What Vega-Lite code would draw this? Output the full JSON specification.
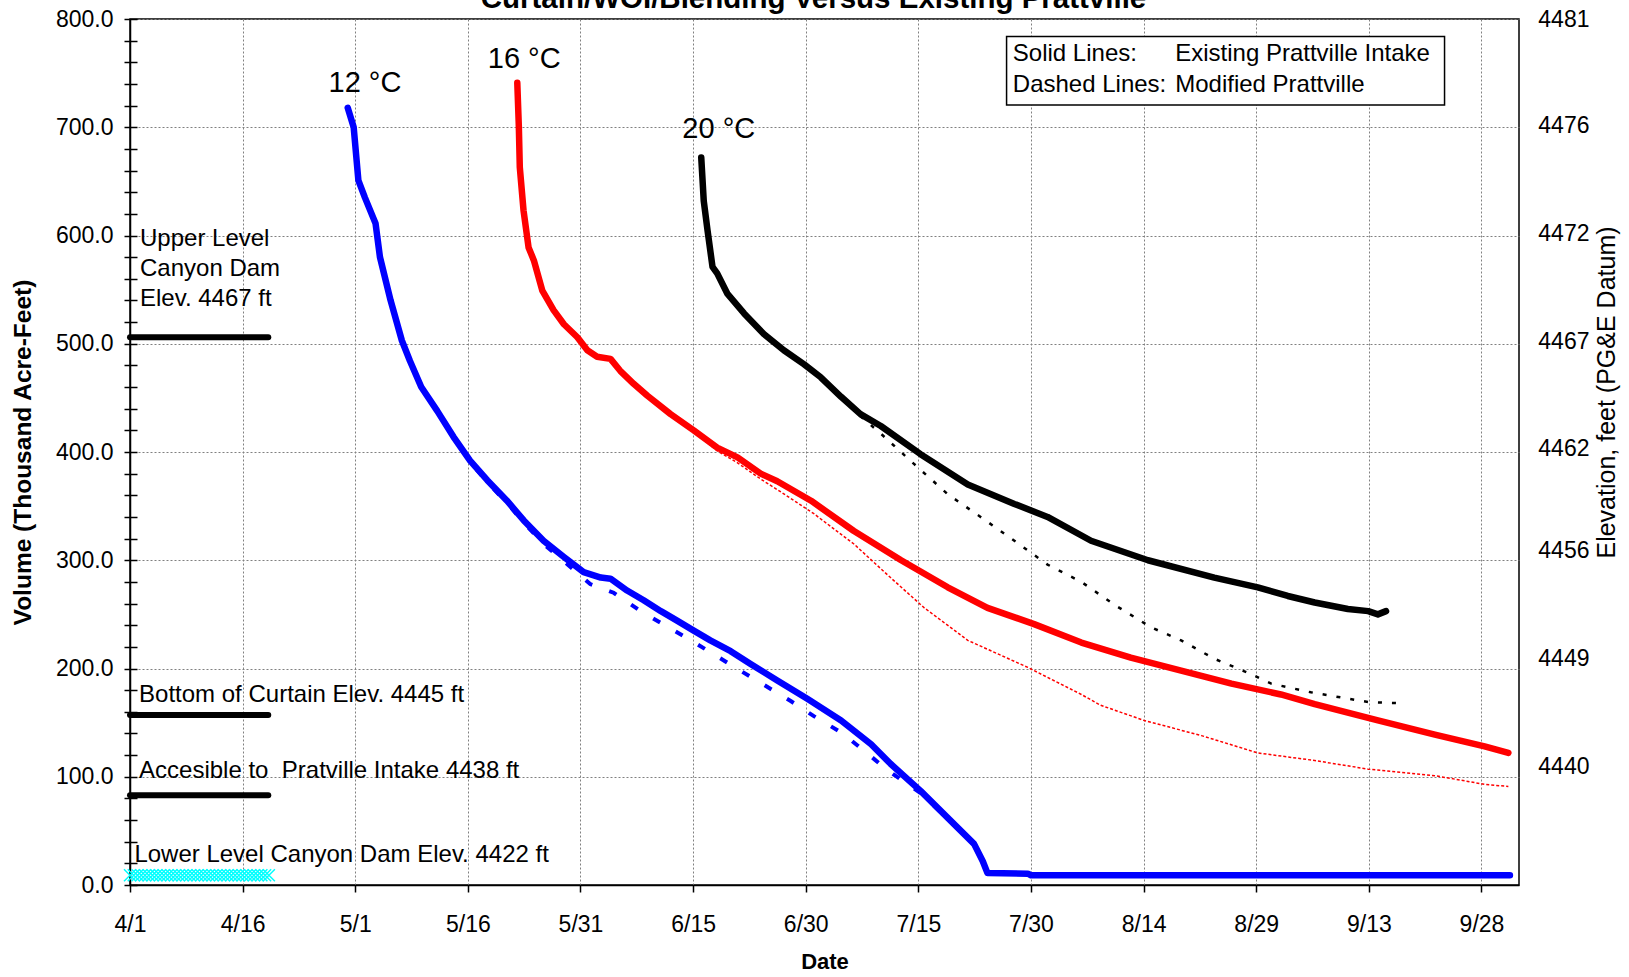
{
  "$schema": "https://vega.github.io/schema/vega-lite/v6.json",
  "width": 1389,
  "height": 866,
  "autosize": {"type": "none"},
  "padding": {"left": 130, "top": 19, "right": 110, "bottom": 92},
  "background": "white",
  "title": {"text": "Curtain/WOI/Blending Versus Existing Prattville", "font": "Liberation Sans", "fontSize": 29.5, "fontWeight": "bold", "anchor": "middle", "frame": "group", "baseline": "alphabetic", "offset": -16, "dx": -11, "dy": 13, "color": "black"},
  "config": {
    "font": "Liberation Sans",
    "view": {"stroke": "black", "strokeWidth": 1.5},
    "axis": {"labelColor": "black", "titleColor": "black", "labelFont": "Liberation Sans", "titleFont": "Liberation Sans"}
  },
  "datasets": {
    "levels": [
      {"d": "2001-04-01T00:00Z", "d2": "2001-04-19T10:00Z", "v": 506},
      {"d": "2001-04-01T00:00Z", "d2": "2001-04-19T10:00Z", "v": 157},
      {"d": "2001-04-01T00:00Z", "d2": "2001-04-19T10:00Z", "v": 83}
    ],
    "cyan": [
      {"d": "2001-04-01T00:00Z", "v": 9}, {"d": "2001-04-01T12:00Z", "v": 9},
      {"d": "2001-04-02T00:00Z", "v": 9}, {"d": "2001-04-02T12:00Z", "v": 9},
      {"d": "2001-04-03T00:00Z", "v": 9}, {"d": "2001-04-03T12:00Z", "v": 9},
      {"d": "2001-04-04T00:00Z", "v": 9}, {"d": "2001-04-04T12:00Z", "v": 9},
      {"d": "2001-04-05T00:00Z", "v": 9}, {"d": "2001-04-05T12:00Z", "v": 9},
      {"d": "2001-04-06T00:00Z", "v": 9}, {"d": "2001-04-06T12:00Z", "v": 9},
      {"d": "2001-04-07T00:00Z", "v": 9}, {"d": "2001-04-07T12:00Z", "v": 9},
      {"d": "2001-04-08T00:00Z", "v": 9}, {"d": "2001-04-08T12:00Z", "v": 9},
      {"d": "2001-04-09T00:00Z", "v": 9}, {"d": "2001-04-09T12:00Z", "v": 9},
      {"d": "2001-04-10T00:00Z", "v": 9}, {"d": "2001-04-10T12:00Z", "v": 9},
      {"d": "2001-04-11T00:00Z", "v": 9}, {"d": "2001-04-11T12:00Z", "v": 9},
      {"d": "2001-04-12T00:00Z", "v": 9}, {"d": "2001-04-12T12:00Z", "v": 9},
      {"d": "2001-04-13T00:00Z", "v": 9}, {"d": "2001-04-13T12:00Z", "v": 9},
      {"d": "2001-04-14T00:00Z", "v": 9}, {"d": "2001-04-14T12:00Z", "v": 9},
      {"d": "2001-04-15T00:00Z", "v": 9}, {"d": "2001-04-15T12:00Z", "v": 9},
      {"d": "2001-04-16T00:00Z", "v": 9}, {"d": "2001-04-16T12:00Z", "v": 9},
      {"d": "2001-04-17T00:00Z", "v": 9}, {"d": "2001-04-17T12:00Z", "v": 9},
      {"d": "2001-04-18T00:00Z", "v": 9}, {"d": "2001-04-18T12:00Z", "v": 9},
      {"d": "2001-04-19T00:00Z", "v": 9}, {"d": "2001-04-19T12:00Z", "v": 9}
    ],
    "blueS": [
      {"d": "2001-04-30T00:00Z", "v": 718}, {"d": "2001-04-30T19:00Z", "v": 700},
      {"d": "2001-05-01T10:00Z", "v": 651}, {"d": "2001-05-02T07:00Z", "v": 635},
      {"d": "2001-05-03T17:00Z", "v": 611}, {"d": "2001-05-04T07:00Z", "v": 580},
      {"d": "2001-05-05T17:00Z", "v": 540}, {"d": "2001-05-07T05:00Z", "v": 503},
      {"d": "2001-05-08T07:00Z", "v": 484}, {"d": "2001-05-09T19:00Z", "v": 460},
      {"d": "2001-05-11T22:00Z", "v": 438}, {"d": "2001-05-14T02:00Z", "v": 414},
      {"d": "2001-05-16T07:00Z", "v": 392}, {"d": "2001-05-18T14:00Z", "v": 374},
      {"d": "2001-05-21T05:00Z", "v": 355}, {"d": "2001-05-23T10:00Z", "v": 337},
      {"d": "2001-05-26T02:00Z", "v": 318}, {"d": "2001-05-28T19:00Z", "v": 303},
      {"d": "2001-05-31T10:00Z", "v": 289}, {"d": "2001-06-02T17:00Z", "v": 284},
      {"d": "2001-06-04T00:00Z", "v": 283}, {"d": "2001-06-06T05:00Z", "v": 272},
      {"d": "2001-06-08T10:00Z", "v": 263}, {"d": "2001-06-10T17:00Z", "v": 253},
      {"d": "2001-06-12T22:00Z", "v": 244}, {"d": "2001-06-15T02:00Z", "v": 235},
      {"d": "2001-06-17T07:00Z", "v": 226}, {"d": "2001-06-20T00:00Z", "v": 216},
      {"d": "2001-06-22T17:00Z", "v": 204}, {"d": "2001-06-26T05:00Z", "v": 189},
      {"d": "2001-06-30T05:00Z", "v": 172}, {"d": "2001-07-04T17:00Z", "v": 152},
      {"d": "2001-07-08T17:00Z", "v": 130}, {"d": "2001-07-11T07:00Z", "v": 112},
      {"d": "2001-07-15T07:00Z", "v": 87}, {"d": "2001-07-18T22:00Z", "v": 62},
      {"d": "2001-07-22T10:00Z", "v": 38}, {"d": "2001-07-23T14:00Z", "v": 22},
      {"d": "2001-07-24T05:00Z", "v": 11}, {"d": "2001-07-29T14:00Z", "v": 10.5},
      {"d": "2001-07-30T00:00Z", "v": 9}, {"d": "2001-10-01T19:00Z", "v": 9}
    ],
    "blueD": [
      {"d": "2001-04-30T00:00Z", "v": 718}, {"d": "2001-04-30T19:00Z", "v": 700},
      {"d": "2001-05-01T10:00Z", "v": 651}, {"d": "2001-05-02T07:00Z", "v": 635},
      {"d": "2001-05-03T17:00Z", "v": 611}, {"d": "2001-05-04T07:00Z", "v": 580},
      {"d": "2001-05-05T17:00Z", "v": 540}, {"d": "2001-05-07T05:00Z", "v": 503},
      {"d": "2001-05-08T07:00Z", "v": 484}, {"d": "2001-05-09T19:00Z", "v": 460},
      {"d": "2001-05-11T22:00Z", "v": 438}, {"d": "2001-05-14T02:00Z", "v": 413},
      {"d": "2001-05-16T07:00Z", "v": 391}, {"d": "2001-05-18T14:00Z", "v": 372},
      {"d": "2001-05-21T05:00Z", "v": 353}, {"d": "2001-05-23T10:00Z", "v": 335},
      {"d": "2001-05-26T02:00Z", "v": 315}, {"d": "2001-05-28T19:00Z", "v": 299},
      {"d": "2001-06-01T07:00Z", "v": 278}, {"d": "2001-06-04T10:00Z", "v": 270},
      {"d": "2001-06-08T00:00Z", "v": 253}, {"d": "2001-06-14T17:00Z", "v": 226},
      {"d": "2001-06-21T07:00Z", "v": 198}, {"d": "2001-06-28T00:00Z", "v": 170},
      {"d": "2001-07-01T02:00Z", "v": 156}, {"d": "2001-07-04T17:00Z", "v": 141},
      {"d": "2001-07-07T19:00Z", "v": 124}, {"d": "2001-07-10T17:00Z", "v": 107},
      {"d": "2001-07-15T07:00Z", "v": 85}, {"d": "2001-07-18T22:00Z", "v": 61},
      {"d": "2001-07-22T10:00Z", "v": 37}, {"d": "2001-07-23T14:00Z", "v": 22},
      {"d": "2001-07-24T05:00Z", "v": 11}
    ],
    "redS": [
      {"d": "2001-05-22T14:00Z", "v": 741}, {"d": "2001-05-22T19:00Z", "v": 700},
      {"d": "2001-05-22T22:00Z", "v": 663}, {"d": "2001-05-23T10:00Z", "v": 623},
      {"d": "2001-05-24T02:00Z", "v": 589}, {"d": "2001-05-24T19:00Z", "v": 577},
      {"d": "2001-05-25T22:00Z", "v": 549}, {"d": "2001-05-27T10:00Z", "v": 531},
      {"d": "2001-05-28T19:00Z", "v": 518}, {"d": "2001-05-30T14:00Z", "v": 506},
      {"d": "2001-05-31T22:00Z", "v": 494}, {"d": "2001-06-02T05:00Z", "v": 488},
      {"d": "2001-06-04T00:00Z", "v": 486}, {"d": "2001-06-05T07:00Z", "v": 475},
      {"d": "2001-06-07T02:00Z", "v": 463}, {"d": "2001-06-08T22:00Z", "v": 452},
      {"d": "2001-06-12T00:00Z", "v": 435}, {"d": "2001-06-15T02:00Z", "v": 420},
      {"d": "2001-06-18T05:00Z", "v": 404}, {"d": "2001-06-20T22:00Z", "v": 395},
      {"d": "2001-06-24T00:00Z", "v": 380}, {"d": "2001-06-26T05:00Z", "v": 373},
      {"d": "2001-06-30T17:00Z", "v": 355}, {"d": "2001-07-06T10:00Z", "v": 327},
      {"d": "2001-07-12T17:00Z", "v": 300}, {"d": "2001-07-18T22:00Z", "v": 275},
      {"d": "2001-07-24T05:00Z", "v": 256}, {"d": "2001-07-30T10:00Z", "v": 241},
      {"d": "2001-08-05T17:00Z", "v": 224}, {"d": "2001-08-12T07:00Z", "v": 210},
      {"d": "2001-08-19T00:00Z", "v": 198}, {"d": "2001-08-25T17:00Z", "v": 186},
      {"d": "2001-09-01T07:00Z", "v": 176}, {"d": "2001-09-05T19:00Z", "v": 167},
      {"d": "2001-09-14T05:00Z", "v": 152}, {"d": "2001-09-21T19:00Z", "v": 139},
      {"d": "2001-09-28T10:00Z", "v": 128}, {"d": "2001-10-01T14:00Z", "v": 122}
    ],
    "redD": [
      {"d": "2001-05-22T14:00Z", "v": 741}, {"d": "2001-05-22T19:00Z", "v": 700},
      {"d": "2001-05-22T22:00Z", "v": 663}, {"d": "2001-05-23T10:00Z", "v": 623},
      {"d": "2001-05-24T02:00Z", "v": 589}, {"d": "2001-05-24T19:00Z", "v": 577},
      {"d": "2001-05-25T22:00Z", "v": 549}, {"d": "2001-05-27T10:00Z", "v": 531},
      {"d": "2001-05-28T19:00Z", "v": 518}, {"d": "2001-05-30T14:00Z", "v": 506},
      {"d": "2001-05-31T22:00Z", "v": 494}, {"d": "2001-06-02T05:00Z", "v": 488},
      {"d": "2001-06-04T00:00Z", "v": 486}, {"d": "2001-06-05T07:00Z", "v": 475},
      {"d": "2001-06-07T02:00Z", "v": 463}, {"d": "2001-06-08T22:00Z", "v": 452},
      {"d": "2001-06-12T00:00Z", "v": 435}, {"d": "2001-06-15T02:00Z", "v": 419},
      {"d": "2001-06-18T05:00Z", "v": 401}, {"d": "2001-06-20T22:00Z", "v": 390},
      {"d": "2001-06-24T00:00Z", "v": 375}, {"d": "2001-06-26T17:00Z", "v": 363},
      {"d": "2001-07-01T02:00Z", "v": 343}, {"d": "2001-07-06T10:00Z", "v": 315},
      {"d": "2001-07-11T07:00Z", "v": 284}, {"d": "2001-07-15T19:00Z", "v": 256},
      {"d": "2001-07-21T14:00Z", "v": 226}, {"d": "2001-07-29T14:00Z", "v": 201},
      {"d": "2001-08-05T17:00Z", "v": 176}, {"d": "2001-08-08T07:00Z", "v": 166},
      {"d": "2001-08-14T02:00Z", "v": 152}, {"d": "2001-08-21T17:00Z", "v": 138},
      {"d": "2001-08-29T05:00Z", "v": 122}, {"d": "2001-09-05T19:00Z", "v": 115},
      {"d": "2001-09-12T22:00Z", "v": 107}, {"d": "2001-09-21T19:00Z", "v": 101},
      {"d": "2001-09-28T10:00Z", "v": 93}, {"d": "2001-10-01T14:00Z", "v": 91}
    ],
    "blackS": [
      {"d": "2001-06-16T02:00Z", "v": 672}, {"d": "2001-06-16T10:00Z", "v": 632},
      {"d": "2001-06-16T22:00Z", "v": 605}, {"d": "2001-06-17T14:00Z", "v": 571},
      {"d": "2001-06-18T05:00Z", "v": 565}, {"d": "2001-06-19T14:00Z", "v": 546},
      {"d": "2001-06-21T19:00Z", "v": 528}, {"d": "2001-06-24T10:00Z", "v": 509},
      {"d": "2001-06-27T02:00Z", "v": 494}, {"d": "2001-06-29T19:00Z", "v": 481},
      {"d": "2001-07-02T00:00Z", "v": 469}, {"d": "2001-07-04T17:00Z", "v": 451},
      {"d": "2001-07-07T07:00Z", "v": 435}, {"d": "2001-07-10T00:00Z", "v": 424},
      {"d": "2001-07-15T07:00Z", "v": 398}, {"d": "2001-07-21T14:00Z", "v": 370},
      {"d": "2001-07-27T19:00Z", "v": 352}, {"d": "2001-08-01T05:00Z", "v": 340},
      {"d": "2001-08-07T00:00Z", "v": 318}, {"d": "2001-08-14T14:00Z", "v": 300},
      {"d": "2001-08-23T10:00Z", "v": 284}, {"d": "2001-08-29T05:00Z", "v": 275},
      {"d": "2001-09-02T05:00Z", "v": 267}, {"d": "2001-09-05T19:00Z", "v": 261},
      {"d": "2001-09-10T05:00Z", "v": 255}, {"d": "2001-09-12T22:00Z", "v": 253},
      {"d": "2001-09-14T05:00Z", "v": 250}, {"d": "2001-09-15T07:00Z", "v": 253}
    ],
    "blackD": [
      {"d": "2001-06-16T02:00Z", "v": 672}, {"d": "2001-06-16T10:00Z", "v": 632},
      {"d": "2001-06-16T22:00Z", "v": 605}, {"d": "2001-06-17T14:00Z", "v": 571},
      {"d": "2001-06-18T05:00Z", "v": 565}, {"d": "2001-06-19T14:00Z", "v": 546},
      {"d": "2001-06-21T19:00Z", "v": 528}, {"d": "2001-06-24T10:00Z", "v": 509},
      {"d": "2001-06-27T02:00Z", "v": 494}, {"d": "2001-06-29T19:00Z", "v": 481},
      {"d": "2001-07-02T00:00Z", "v": 469}, {"d": "2001-07-04T17:00Z", "v": 450},
      {"d": "2001-07-07T07:00Z", "v": 433}, {"d": "2001-07-10T00:00Z", "v": 417},
      {"d": "2001-07-14T10:00Z", "v": 389}, {"d": "2001-07-18T22:00Z", "v": 361},
      {"d": "2001-07-23T07:00Z", "v": 340}, {"d": "2001-07-27T19:00Z", "v": 318},
      {"d": "2001-08-01T05:00Z", "v": 296}, {"d": "2001-08-05T17:00Z", "v": 280},
      {"d": "2001-08-10T02:00Z", "v": 259}, {"d": "2001-08-15T00:00Z", "v": 238},
      {"d": "2001-08-19T00:00Z", "v": 226}, {"d": "2001-08-23T10:00Z", "v": 209},
      {"d": "2001-08-27T22:00Z", "v": 196}, {"d": "2001-08-31T00:00Z", "v": 186},
      {"d": "2001-09-05T07:00Z", "v": 178}, {"d": "2001-09-12T22:00Z", "v": 169},
      {"d": "2001-09-16T17:00Z", "v": 168}
    ],
    "box": [
      {"d": "2001-07-26T18:00Z", "d2": "2001-09-23T02:00Z", "v": 783.9, "v2": 720.6}
    ],
    "legendText": [
      {"t": "Solid Lines:", "d": "2001-07-27T14:00Z", "v": 761.6},
      {"t": "Existing Prattville Intake", "d": "2001-08-18T05:00Z", "v": 761.6},
      {"t": "Dashed Lines:", "d": "2001-07-27T14:00Z", "v": 733},
      {"t": "Modified Prattville", "d": "2001-08-18T05:00Z", "v": 733}
    ],
    "notes": [
      {"t": "Upper Level\nCanyon Dam\nElev. 4467 ft", "d": "2001-04-02T08:00Z", "v": 590.3},
      {"t": "Bottom of Curtain Elev. 4445 ft", "d": "2001-04-02T05:00Z", "v": 169.3},
      {"t": "Accesible to\u00a0 Pratville Intake 4438 ft", "d": "2001-04-02T05:00Z", "v": 98.6},
      {"t": "Lower Level Canyon Dam Elev. 4422 ft", "d": "2001-04-01T14:00Z", "v": 21.5}
    ],
    "temps": [
      {"t": "12 °C", "d": "2001-05-02T07:00Z", "v": 733},
      {"t": "16 °C", "d": "2001-05-23T12:00Z", "v": 754.5},
      {"t": "20 °C", "d": "2001-06-18T10:00Z", "v": 689.8}
    ]
  },
  "layer": [
    {
      "data": {"name": "levels"},
      "mark": {"type": "rule", "color": "black", "strokeWidth": 6, "strokeCap": "round"},
      "encoding": {
        "x": {"field": "d", "type": "temporal", "scale": {"type": "utc", "domain": [{"year": 2001, "month": 4, "date": 1, "utc": true}, {"year": 2001, "month": 10, "date": 3, "utc": true}]},
          "axis": {"title": "Date", "titleFontSize": 22, "titleFontWeight": "bold", "titlePadding": 15, "format": "%-m/%-d", "labelFlush": false, "labelOverlap": false,
            "values": [{"year": 2001, "month": 4, "date": 1, "utc": true}, {"year": 2001, "month": 4, "date": 16, "utc": true}, {"year": 2001, "month": 5, "date": 1, "utc": true}, {"year": 2001, "month": 5, "date": 16, "utc": true}, {"year": 2001, "month": 5, "date": 31, "utc": true}, {"year": 2001, "month": 6, "date": 15, "utc": true}, {"year": 2001, "month": 6, "date": 30, "utc": true}, {"year": 2001, "month": 7, "date": 15, "utc": true}, {"year": 2001, "month": 7, "date": 30, "utc": true}, {"year": 2001, "month": 8, "date": 14, "utc": true}, {"year": 2001, "month": 8, "date": 29, "utc": true}, {"year": 2001, "month": 9, "date": 13, "utc": true}, {"year": 2001, "month": 9, "date": 28, "utc": true}],
            "grid": true, "gridColor": "#808080", "gridDash": [2, 2], "gridWidth": 1, "tickColor": "black", "tickSize": 7, "tickWidth": 1.5, "domainColor": "black", "domainWidth": 1.5, "labelFontSize": 23, "labelPadding": 21}},
        "x2": {"field": "d2"},
        "y": {"field": "v", "type": "quantitative", "scale": {"domain": [0, 800], "nice": false, "zero": false},
          "axis": {"orient": "left", "offset": -7, "values": [0, 20, 40, 60, 80, 100, 120, 140, 160, 180, 200, 220, 240, 260, 280, 300, 320, 340, 360, 380, 400, 420, 440, 460, 480, 500, 520, 540, 560, 580, 600, 620, 640, 660, 680, 700, 720, 740, 760, 780, 800], "labels": false, "domain": false, "grid": false, "ticks": true, "tickSize": 13, "tickColor": "black", "tickWidth": 1.5, "title": null}}
      }
    },
    {
      "data": {"name": "cyan"},
      "mark": {"type": "point", "shape": "M-1,-1L1,1M1,-1L-1,1", "filled": false, "stroke": "#00FFFF", "strokeWidth": 1.5, "size": 144, "opacity": 1},
      "encoding": {
        "x": {"field": "d", "type": "temporal", "scale": {"type": "utc", "domain": [{"year": 2001, "month": 4, "date": 1, "utc": true}, {"year": 2001, "month": 10, "date": 3, "utc": true}]}},
        "y": {"field": "v", "type": "quantitative", "scale": {"domain": [0, 800], "nice": false, "zero": false},
          "axis": {"orient": "left", "title": "Volume (Thousand Acre-Feet)", "titleFontSize": 24.5, "titleFontWeight": "bold", "titlePadding": 20, "values": [0, 100, 200, 300, 400, 500, 600, 700, 800], "format": ".1f", "grid": true, "gridColor": "#808080", "gridDash": [2, 2], "gridWidth": 1, "ticks": false, "domainColor": "black", "domainWidth": 1.5, "labelFontSize": 23, "labelPadding": 17}}
      }
    },
    {
      "data": {"name": "blueD"},
      "mark": {"type": "line", "color": "#0000FF", "strokeWidth": 4, "strokeDash": [8, 18]},
      "encoding": {
        "x": {"field": "d", "type": "temporal", "scale": {"type": "utc", "domain": [{"year": 2001, "month": 4, "date": 1, "utc": true}, {"year": 2001, "month": 10, "date": 3, "utc": true}]}},
        "y": {"field": "v", "type": "quantitative", "scale": {"domain": [0, 800], "nice": false, "zero": false}, "axis": null}
      }
    },
    {
      "data": {"name": "redD"},
      "mark": {"type": "line", "color": "#FF0000", "strokeWidth": 1.5, "strokeDash": [3, 2]},
      "encoding": {
        "x": {"field": "d", "type": "temporal", "scale": {"type": "utc", "domain": [{"year": 2001, "month": 4, "date": 1, "utc": true}, {"year": 2001, "month": 10, "date": 3, "utc": true}]}},
        "y": {"field": "v", "type": "quantitative", "scale": {"domain": [0, 800], "nice": false, "zero": false}, "axis": null}
      }
    },
    {
      "data": {"name": "blackD"},
      "mark": {"type": "line", "color": "#000000", "strokeWidth": 2.5, "strokeDash": [4, 10]},
      "encoding": {
        "x": {"field": "d", "type": "temporal", "scale": {"type": "utc", "domain": [{"year": 2001, "month": 4, "date": 1, "utc": true}, {"year": 2001, "month": 10, "date": 3, "utc": true}]}},
        "y": {"field": "v", "type": "quantitative", "scale": {"domain": [0, 800], "nice": false, "zero": false}, "axis": null}
      }
    },
    {
      "data": {"name": "blueS"},
      "mark": {"type": "line", "color": "#0000FF", "strokeWidth": 6.5, "strokeCap": "round", "strokeJoin": "round"},
      "encoding": {
        "x": {"field": "d", "type": "temporal", "scale": {"type": "utc", "domain": [{"year": 2001, "month": 4, "date": 1, "utc": true}, {"year": 2001, "month": 10, "date": 3, "utc": true}]}},
        "y": {"field": "v", "type": "quantitative", "scale": {"domain": [0, 800], "nice": false, "zero": false}, "axis": null}
      }
    },
    {
      "data": {"name": "redS"},
      "mark": {"type": "line", "color": "#FF0000", "strokeWidth": 6.5, "strokeCap": "round", "strokeJoin": "round"},
      "encoding": {
        "x": {"field": "d", "type": "temporal", "scale": {"type": "utc", "domain": [{"year": 2001, "month": 4, "date": 1, "utc": true}, {"year": 2001, "month": 10, "date": 3, "utc": true}]}},
        "y": {"field": "v", "type": "quantitative", "scale": {"domain": [0, 800], "nice": false, "zero": false}, "axis": null}
      }
    },
    {
      "data": {"name": "blackS"},
      "mark": {"type": "line", "color": "#000000", "strokeWidth": 6.5, "strokeCap": "round", "strokeJoin": "round"},
      "encoding": {
        "x": {"field": "d", "type": "temporal", "scale": {"type": "utc", "domain": [{"year": 2001, "month": 4, "date": 1, "utc": true}, {"year": 2001, "month": 10, "date": 3, "utc": true}]}},
        "y": {"field": "v", "type": "quantitative", "scale": {"domain": [0, 800], "nice": false, "zero": false}, "axis": null}
      }
    },
    {
      "data": {"name": "box"},
      "mark": {"type": "rect", "fill": "white", "stroke": "black", "strokeWidth": 1.5},
      "encoding": {
        "x": {"field": "d", "type": "temporal", "scale": {"type": "utc", "domain": [{"year": 2001, "month": 4, "date": 1, "utc": true}, {"year": 2001, "month": 10, "date": 3, "utc": true}]}},
        "x2": {"field": "d2"},
        "y": {"field": "v", "type": "quantitative", "scale": {"domain": [0, 800], "nice": false, "zero": false}, "axis": null},
        "y2": {"field": "v2"}
      }
    },
    {
      "data": {"name": "legendText"},
      "mark": {"type": "text", "align": "left", "baseline": "alphabetic", "fontSize": 24, "color": "black"},
      "encoding": {
        "x": {"field": "d", "type": "temporal", "scale": {"type": "utc", "domain": [{"year": 2001, "month": 4, "date": 1, "utc": true}, {"year": 2001, "month": 10, "date": 3, "utc": true}]}},
        "y": {"field": "v", "type": "quantitative", "scale": {"domain": [0, 800], "nice": false, "zero": false}, "axis": null},
        "text": {"field": "t"}
      }
    },
    {
      "data": {"name": "notes"},
      "mark": {"type": "text", "align": "left", "baseline": "alphabetic", "fontSize": 24, "color": "black", "lineBreak": "\n", "lineHeight": 30},
      "encoding": {
        "x": {"field": "d", "type": "temporal", "scale": {"type": "utc", "domain": [{"year": 2001, "month": 4, "date": 1, "utc": true}, {"year": 2001, "month": 10, "date": 3, "utc": true}]}},
        "y": {"field": "v", "type": "quantitative", "scale": {"domain": [0, 800], "nice": false, "zero": false}, "axis": null},
        "text": {"field": "t"}
      }
    },
    {
      "data": {"name": "temps"},
      "mark": {"type": "text", "align": "center", "baseline": "alphabetic", "fontSize": 29, "color": "black"},
      "encoding": {
        "x": {"field": "d", "type": "temporal", "scale": {"type": "utc", "domain": [{"year": 2001, "month": 4, "date": 1, "utc": true}, {"year": 2001, "month": 10, "date": 3, "utc": true}]}},
        "y": {"field": "v", "type": "quantitative", "scale": {"domain": [0, 800], "nice": false, "zero": false},
          "axis": {"orient": "right", "values": [100, 200, 300, 400, 500, 600, 700, 800], "labelExpr": "datum.value==800?'4481':datum.value==700?'4476':datum.value==600?'4472':datum.value==500?'4467':datum.value==400?'4462':datum.value==300?'4456':datum.value==200?'4449':datum.value==100?'4440':''", "labelAlign": "right", "labelPadding": 70, "labelOffset": {"condition": [{"test": "datum.value <= 300", "value": -10}, {"test": "datum.value == 400", "value": -4}, {"test": "datum.value == 800", "value": 0}], "value": -2}, "labelFontSize": 23, "ticks": false, "domain": false, "grid": false, "title": "Elevation, feet (PG&E Datum)", "titleFontSize": 25, "titleFontWeight": "normal", "titleAngle": 270, "titleBaseline": "top", "titleY": 373, "titlePadding": 5}},
        "text": {"field": "t"}
      }
    }
  ],
  "resolve": {"axis": {"y": "independent"}}
}
